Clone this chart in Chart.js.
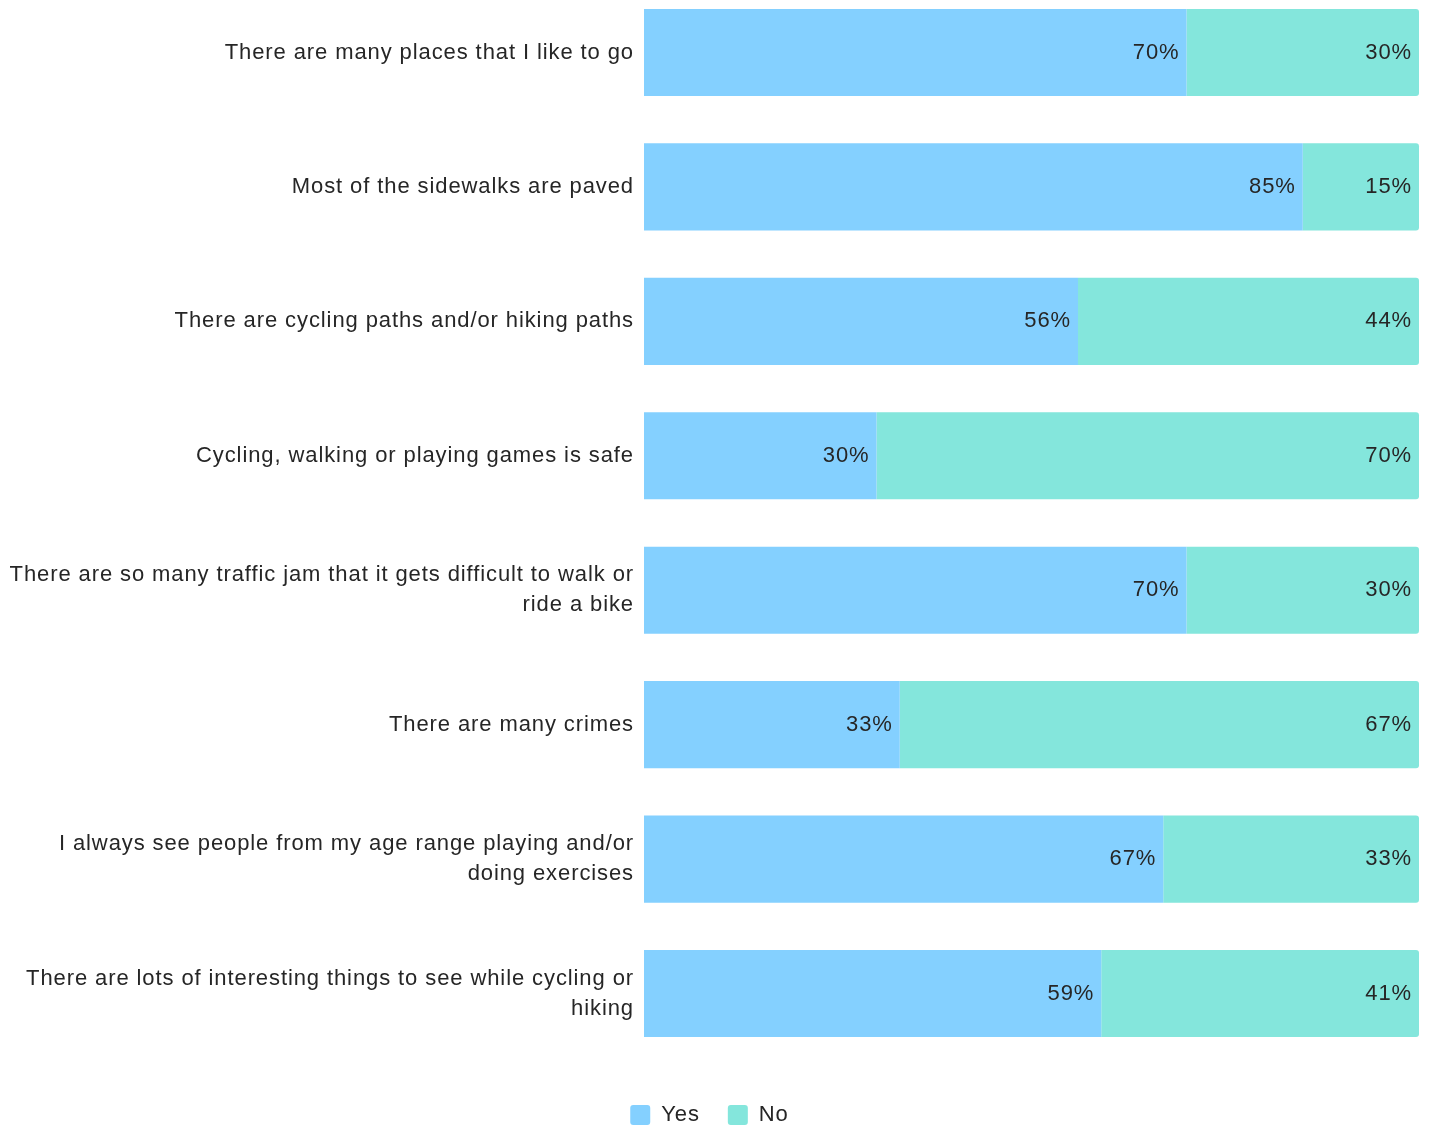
<!DOCTYPE html>
<html>
<head>
<meta charset="utf-8">
<title>Neighbourhood survey</title>
<script src="https://cdn.jsdelivr.net/npm/chart.js@4.4.1/dist/chart.umd.min.js"></script>
<style>
  html, body { margin: 0; padding: 0; background: #fff; }
  #wrap { width: 1430px; height: 1129px; }
</style>
</head>
<body>
<div id="wrap"><canvas id="surveyChart"></canvas></div>
<script>
// --- DATA ---
const questions = [
    "There are many places that I like to go",
    "Most of the sidewalks are paved",
    "There are cycling paths and/or hiking paths",
    "Cycling, walking or playing games is safe",
    ["There are so many traffic jam that it gets difficult to walk or", "ride a bike"],
    "There are many crimes",
    ["I always see people from my age range playing and/or", "doing exercises"],
    ["There are lots of interesting things to see while cycling or", "hiking"]
];
const yesValues = [70, 85, 56, 30, 70, 33, 67, 59];
const noValues = [30, 15, 44, 70, 30, 67, 33, 41];

const FONT = "'Liberation Sans', Arial, sans-serif";
const TEXT = '#262626';
const SPACING = '0.9px';

// slightly looser text everywhere (the context state gets reset on resize)
const looseText = {
    id: 'looseText',
    beforeUpdate(chart) { chart.ctx.letterSpacing = SPACING; },
    beforeLayout(chart) { chart.ctx.letterSpacing = SPACING; },
    beforeDraw(chart) { chart.ctx.letterSpacing = SPACING; }
};

// writes the percentage at the right end of every segment
const segmentLabels = {
    id: 'segmentLabels',
    afterDatasetsDraw(chart) {
        const ctx = chart.ctx;
        ctx.save();
        ctx.font = `22px ${FONT}`;
        ctx.fillStyle = TEXT;
        ctx.textAlign = 'right';
        ctx.textBaseline = 'middle';
        chart.data.datasets.forEach((ds, i) => {
            chart.getDatasetMeta(i).data.forEach((bar, j) => {
                ctx.fillText(ds.data[j] + '%', bar.x - 7, bar.y);
            });
        });
        ctx.restore();
    }
};

new Chart(document.getElementById('surveyChart'), {
    type: 'bar',
    data: {
        labels: questions,
        datasets: [
            {
                label: 'Yes',
                data: yesValues,
                backgroundColor: '#84d0ff',
                borderRadius: 0,
                clip: false,
                barPercentage: 0.648,
                categoryPercentage: 1
            },
            {
                label: 'No',
                data: noValues,
                backgroundColor: '#84e6dc',
                borderRadius: { topLeft: 0, bottomLeft: 0, topRight: 3, bottomRight: 3 },
                borderSkipped: false,
                clip: false,
                barPercentage: 0.648,
                categoryPercentage: 1
            }
        ]
    },
    options: {
        indexAxis: 'y',
        responsive: true,
        maintainAspectRatio: false,
        animation: false,
        layout: { padding: { top: 52.5, right: 11, bottom: -7, left: 0 } },
        scales: {
            x: {
                stacked: true,
                min: 0,
                max: 100,
                grid: { display: false },
                border: { display: false },
                ticks: { display: false },
                // empty band between the last bar and the legend
                afterFit(scale) { scale.height = 82.5; }
            },
            y: {
                stacked: true,
                offset: false,
                grid: { display: false, drawTicks: false },
                border: { display: false },
                ticks: {
                    color: TEXT,
                    padding: 10,
                    font: { family: FONT, size: 22, lineHeight: 1.36 }
                },
                afterFit(scale) { scale.width = 644; }
            }
        },
        plugins: {
            legend: {
                position: 'bottom',
                labels: {
                    color: TEXT,
                    font: { family: FONT, size: 22 },
                    boxWidth: 20,
                    boxHeight: 20,
                    useBorderRadius: true,
                    borderRadius: 3,
                    padding: 28
                }
            },
            tooltip: { enabled: false }
        }
    },
    plugins: [looseText, segmentLabels]
});
</script>
</body>
</html>
